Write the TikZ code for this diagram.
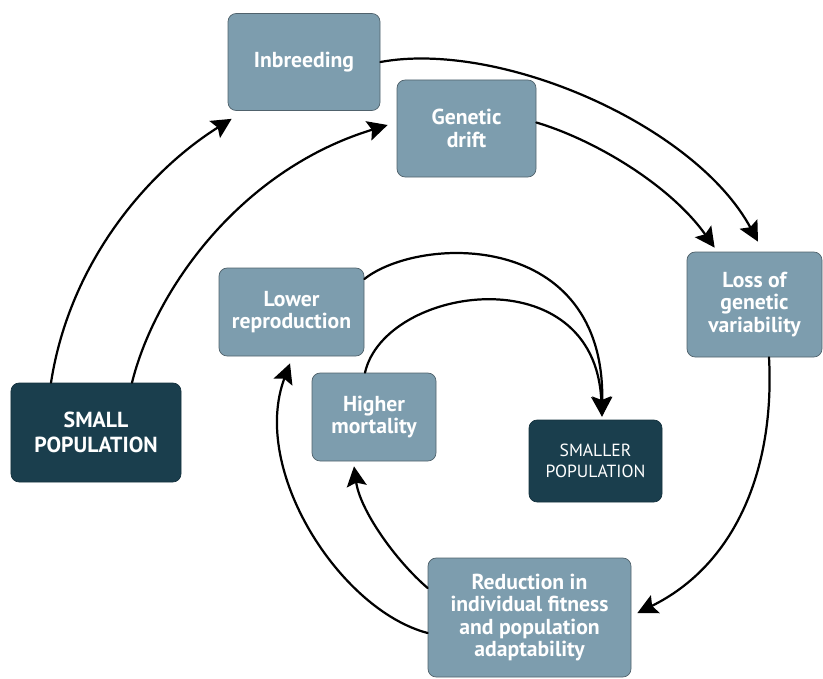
\documentclass[tikz,border=0pt]{standalone}
\usepackage{fontspec}
\setmainfont{PT Sans}
\usepackage{tikz}
\usetikzlibrary{arrows.meta}

\definecolor{boxlight}{RGB}{125,157,174}
\definecolor{boxdark}{RGB}{26,62,77}
\definecolor{boxline}{RGB}{80,98,108}

\begin{document}
\begin{tikzpicture}[x=0.03cm,y=-0.03cm,line cap=round,line join=round,
  box/.style={draw=boxline,line width=.6pt,fill=boxlight,rounded corners=7pt,inner sep=0pt,align=center,text=white,font=\fontsize{18.5}{19}\selectfont\bfseries},
  darkbox/.style={box,fill=boxdark,draw=boxdark!80!black},
  feedback/.style={-{Stealth[length=17pt,width=17pt,inset=3pt]},line width=1.9pt}]
\path[use as bounding box] (0,0) rectangle (823,678);
% boxes
\node[box,minimum width=4.56cm,minimum height=2.91cm] (inbreed) at (304,62) {Inbreeding};
\node[box,minimum width=4.17cm,minimum height=2.91cm] (drift) at (466.5,128.5) {Genetic\\drift};
\node[box,minimum width=4.05cm,minimum height=3.15cm] (loss) at (754.5,304.5) {Loss of\\genetic\\variability};
\node[box,minimum width=4.35cm,minimum height=2.64cm] (lowrep) at (291.5,312) {Lower\\reproduction};
\node[box,minimum width=3.72cm,minimum height=2.64cm] (highmort) at (374,417) {Higher\\mortality};
\node[darkbox,minimum width=5.10cm,minimum height=2.97cm,font=\fontsize{18.6}{21.5}\selectfont\bfseries] (small) at (96,432.5) {SMALL\\POPULATION};
\node[darkbox,minimum width=3.99cm,minimum height=2.46cm,font=\fontsize{15}{18}\selectfont] (smaller) at (595.5,461) {SMALLER\\POPULATION};
\node[box,minimum width=6.09cm,minimum height=3.57cm] (reduct) at (529.5,617.5) {Reduction in\\individual fitness\\and population\\adaptability};
% outer loop
\draw[feedback] ([shift={(-45,0)}]small.north) .. controls (70,260) and (150,170) .. ([shift={(4,8)}]inbreed.south west);
\draw[feedback] ([shift={(36,0)}]small.north) .. controls (155,290) and (240,170) .. ([shift={(-9,-3.5)}]drift.west);
\draw[feedback] (inbreed.east) .. controls (500,40) and (695,125) .. ([shift={(3.5,-10)}]loss.north);
\draw[feedback] ([shift={(0,-6)}]drift.east) .. controls (595,140) and (670,185) .. ([shift={(28,-4)}]loss.north west);
\draw[feedback] ([shift={(14.5,0)}]loss.south) .. controls (775,470) and (735,565) .. ([shift={(6,-4.5)}]reduct.east);
% inner loop
\draw[feedback] ([shift={(0,-29.5)}]reduct.west) .. controls (395,560) and (360,510) .. ([shift={(-20,5)}]highmort.south);
\draw[feedback] ([shift={(0,15.5)}]reduct.west) .. controls (340,610) and (250,470) .. ([shift={(-1.5,7)}]lowrep.south);
\draw[feedback] ([shift={(0,-33)}]lowrep.east) .. controls (420,235) and (605,230) .. ([shift={(6.5,-3)}]smaller.north);
\draw[feedback] ([shift={(-9,0)}]highmort.north) .. controls (385,285) and (595,255) .. ([shift={(6.5,-3)}]smaller.north);
\end{tikzpicture}
\end{document}
